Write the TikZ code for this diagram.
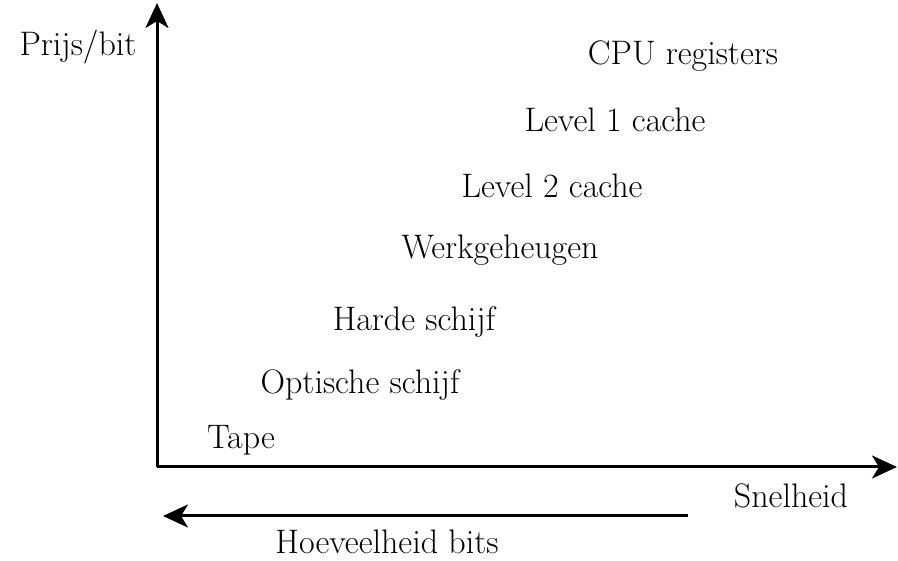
\documentclass[tikz,border=0pt]{standalone}
\usetikzlibrary{arrows.meta}
\begin{document}
\begin{tikzpicture}[x=1pt,y=-1pt,
  lbl/.style={inner sep=0pt,font=\fontsize{34}{40}\selectfont},
  axis/.style={line width=3pt,-{Stealth[length=25pt,width=23pt,inset=7pt]}}]
\useasboundingbox (0,0) rectangle (898,561);
\coordinate (O) at (157,467);
\coordinate (Ytip) at (157,3);
\coordinate (Xtip) at (897,467);
\coordinate (Hs) at (688,516);
\coordinate (He) at (163,516);
\draw[axis] (O) -- (Ytip);
\draw[axis] (O) -- (Xtip);
\draw[axis] (Hs) -- (He);
\node[lbl] (prijs) at (78,47) {Prijs/bit};
\node[lbl] (cpu) at (683,56) {CPU registers};
\node[lbl] (l1) at (615,120) {Level 1 cache};
\node[lbl] (l2) at (552,186) {Level 2 cache};
\node[lbl] (werk) at (500,250) {Werkgeheugen};
\node[lbl] (hd) at (414,322) {Harde schijf};
\node[lbl] (opt) at (360,385) {Optische schijf};
\node[lbl] (tape) at (241,440) {Tape};
\node[lbl] (snel) at (791,496) {Snelheid};
\node[lbl] (hoev) at (387,542) {Hoeveelheid bits};
\end{tikzpicture}
\end{document}
